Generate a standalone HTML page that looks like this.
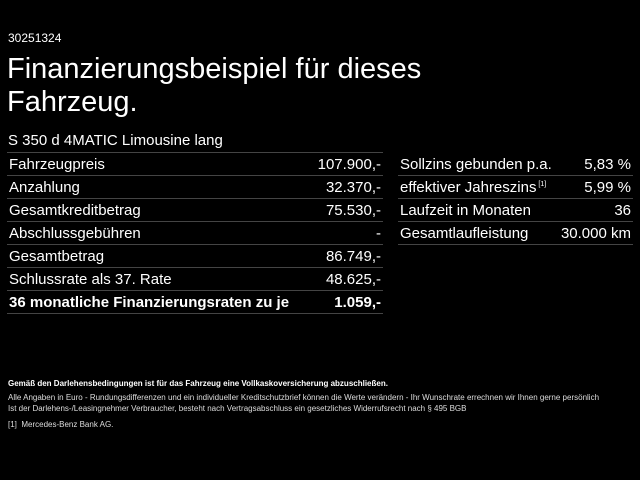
<!DOCTYPE html>
<html><head><style>
body{margin:0;width:640px;height:480px;background:#000;color:#fff;font-family:"Liberation Sans",Arial,sans-serif;position:relative;overflow:hidden}
.a{position:absolute;white-space:nowrap}
.t{position:absolute;border-collapse:collapse;font-size:15px}
.t td{height:22px;border-bottom:1px solid #444;padding:0 2px;vertical-align:middle}
.t td.r{text-align:right}
.f{font-size:8px;color:#ddd}
</style></head><body>
<div class="a" style="left:8px;top:31px;font-size:12px">30251324</div>
<div class="a" style="left:7px;top:53px;font-size:29px;line-height:33px">Finanzierungsbeispiel für dieses<br>Fahrzeug.</div>
<div class="a" style="left:8px;top:132px;font-size:15px">S 350 d 4MATIC Limousine lang</div>
<div style="position:absolute;left:7px;top:152px;width:376px;border-top:1px solid #444"></div>
<table class="t" style="left:7px;top:153px;width:376px">
<tr><td>Fahrzeugpreis</td><td class="r">107.900,-</td></tr>
<tr><td>Anzahlung</td><td class="r">32.370,-</td></tr>
<tr><td>Gesamtkreditbetrag</td><td class="r">75.530,-</td></tr>
<tr><td>Abschlussgebühren</td><td class="r">-</td></tr>
<tr><td>Gesamtbetrag</td><td class="r">86.749,-</td></tr>
<tr><td>Schlussrate als 37. Rate</td><td class="r">48.625,-</td></tr>
<tr style="font-weight:bold"><td>36 monatliche Finanzierungsraten zu je</td><td class="r">1.059,-</td></tr>
</table>
<table class="t" style="left:398px;top:153px;width:235px">
<tr><td>Sollzins gebunden p.a.</td><td class="r">5,83 %</td></tr>
<tr><td>effektiver Jahreszins<sup style="font-size:7px"> [1]</sup></td><td class="r">5,99 %</td></tr>
<tr><td>Laufzeit in Monaten</td><td class="r">36</td></tr>
<tr><td>Gesamtlaufleistung</td><td class="r">30.000 km</td></tr>
</table>
<div class="a" style="left:8px;top:379px;font-size:8px;font-weight:bold">Gemäß den Darlehensbedingungen ist für das Fahrzeug eine Vollkaskoversicherung abzuschließen.</div>
<div class="a f" style="left:8px;top:393px">Alle Angaben in Euro - Rundungsdifferenzen und ein individueller Kreditschutzbrief können die Werte verändern - Ihr Wunschrate errechnen wir Ihnen gerne persönlich</div>
<div class="a f" style="left:8px;top:404px">Ist der Darlehens-/Leasingnehmer Verbraucher, besteht nach Vertragsabschluss ein gesetzliches Widerrufsrecht nach § 495 BGB</div>
<div class="a f" style="left:8px;top:420px">[1]&nbsp; Mercedes-Benz Bank AG.</div>
</body></html>
